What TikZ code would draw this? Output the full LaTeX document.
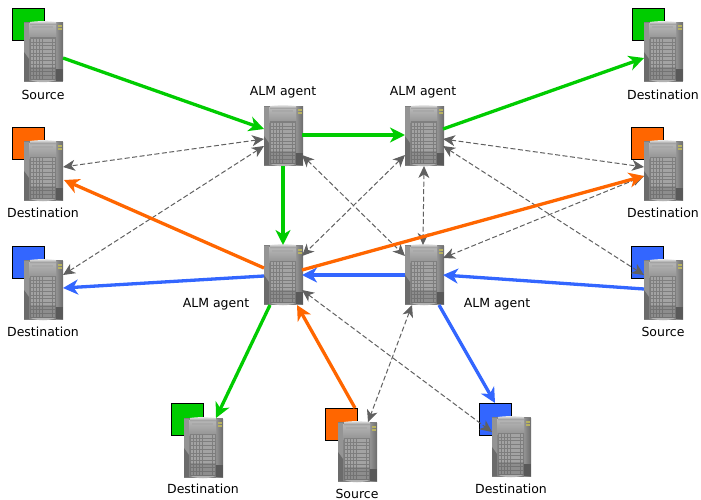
\documentclass[tikz,border=0pt]{standalone}
\usepackage{fontspec}
\setmainfont{DejaVu Sans}
\usetikzlibrary{calc,arrows.meta}
\definecolor{cgreen}{HTML}{00CC00}
\definecolor{corange}{HTML}{FF6600}
\definecolor{cblue}{HTML}{3366FF}
\definecolor{cdash}{HTML}{606060}
\tikzset{
  srv/.style={rectangle,inner sep=0pt,minimum width=39pt,minimum height=60pt,anchor=north west,fill=gray},
  sq/.style={rectangle,draw=black,line width=1pt,inner sep=0pt,minimum size=32pt,anchor=north west},
  lbl/.style={inner sep=0pt,font=\fontsize{12.5}{15}\selectfont,text=black},
  thickline/.style={line width=3.3pt,-{Stealth[length=15pt,width=15pt,inset=4.5pt]}},
  peer/.style={cdash,line width=1pt,dash pattern=on 5pt off 2.5pt,{Stealth[length=12pt,width=11pt,inset=3.5pt]}-{Stealth[length=12pt,width=11pt,inset=3.5pt]}},
  pics/servericon/.style={code={
    \fill[black!48] (0,1) rectangle (39,59);
    \fill[black!42] (0,1) rectangle (5,59);
    \path[left color=black!42,right color=black!58] (32,1) rectangle (39,59);
    \path[top color=black!28,bottom color=black!42] (5,2) rectangle (32,17);
    \fill[black!34] (8,4.5) rectangle (29,6.5);
    \path[top color=black!50,bottom color=black!52] (6,16) rectangle (32,58);
    \fill[black!65] (32,47) -- (39,47) -- (39,59) -- (32,59) -- cycle;
    \fill[black!58] (0,30) -- (5,37) -- (5,59) -- (0,59) -- cycle;
    \path[top color=black!8,bottom color=black!45] (6,0) .. controls (14,-1.2) and (24,-1.2) .. (32,0) -- (32,3) -- (6,3) -- cycle;
    \fill[black!30] (6,58) .. controls (14,61) and (24,61) .. (32,58) -- cycle;
    \foreach \cx in {0,...,7}{\foreach \ry in {0,...,10}{
      \fill[black!36] ({6.8+\cx*3.1},{17+\ry*3.7}) rectangle ++(2.3,2.7);}}
    \fill[black!60,opacity=0.35] (6,45) rectangle (32,58);
    \fill[yellow!60!black!80] (34,3.5) rectangle (38,5.5);
    \fill[yellow!60!black!80] (34,6.5) rectangle (38,8.5);
  }}
}
\newcommand{\agent}[3]{\node[srv] (#1) at (#2,#3) {}; \pic at (#2,#3) {servericon};}
\newcommand{\server}[6]{%
  \node[sq,fill=#6] (#1q) at (#4,#5) {};
  \node[srv] (#1) at (#2,#3) {}; \pic at (#2,#3) {servericon};}
\newcommand{\conn}[7]{\draw[#1] ($(#2.north west)+(#3,#4)$) -- ($(#5.north west)+(#6,#7)$);}
\begin{document}
\begin{tikzpicture}[x=1pt,y=-1pt]
\useasboundingbox (0,0) rectangle (701,500);
% servers
\server{s1}{24}{22}{12}{8}{cgreen}
\server{d2}{24}{141}{12}{127}{corange}
\server{d3}{24}{260}{12}{246}{cblue}
\server{t1}{644}{22}{632}{8}{cgreen}
\server{t2}{644}{141}{631}{127}{corange}
\server{s4}{644}{260}{631}{246}{cblue}
\server{b1}{184}{418}{171}{403}{cgreen}
\server{b2}{338}{422}{325}{408}{corange}
\server{b3}{492}{417}{479}{403}{cblue}
\agent{a1}{264}{106}
\agent{a2}{405}{106}
\agent{a3}{264}{245}
\agent{a4}{405}{245}
% labels
\node[lbl] (l1) at (43,95.2) {Source};
\node[lbl] (l2) at (43,213.2) {Destination};
\node[lbl] (l3) at (43,332.2) {Destination};
\node[lbl] (l4) at (663,95.2) {Destination};
\node[lbl] (l5) at (663,213.2) {Destination};
\node[lbl] (l6) at (663,332.2) {Source};
\node[lbl] (l7) at (283,92.2) {ALM agent};
\node[lbl] (l8) at (423,92.2) {ALM agent};
\node[lbl] (l9) at (216,304.2) {ALM agent};
\node[lbl] (l10) at (497,304.2) {ALM agent};
\node[lbl] (l11) at (203,489.2) {Destination};
\node[lbl] (l12) at (357,493.7) {Source};
\node[lbl] (l13) at (511,489.2) {Destination};
% dashed peer links
\conn{peer}{a1}{0}{33}{d2}{39}{26}
\conn{peer}{a1}{0}{40}{d3}{39}{15}
\conn{peer}{a1}{38}{49}{a4}{0}{11}
\conn{peer}{a2}{0}{49}{a3}{38}{11}
\conn{peer}{a2}{19}{60}{a4}{18}{0}
\conn{peer}{a2}{38}{33}{t2}{0}{26}
\conn{peer}{a2}{38}{40}{s4}{0}{15}
\conn{peer}{a4}{38}{13}{t2}{0}{35}
\conn{peer}{a3}{38}{45}{b3}{0}{15}
\conn{peer}{a4}{7}{60}{b2}{30}{0}
% green
\conn{thickline,cgreen}{s1}{39}{36}{a1}{0}{23}
\conn{thickline,cgreen}{a1}{38}{29}{a2}{0}{29}
\conn{thickline,cgreen}{a1}{19}{60}{a3}{19}{0}
\conn{thickline,cgreen}{a2}{38}{23}{t1}{0}{36}
\conn{thickline,cgreen}{a3}{6}{60}{b1}{32}{0}
% orange
\conn{thickline,corange}{a3}{0}{23}{d2}{40}{39}
\conn{thickline,corange}{a3}{38}{25}{t2}{0}{35}
\conn{thickline,corange}{b2q}{30}{0}{a3}{33}{60}
% blue
\conn{thickline,cblue}{a3}{0}{31}{d3}{39}{28}
\conn{thickline,cblue}{a4}{0}{30}{a3}{38}{30}
\conn{thickline,cblue}{s4}{0}{29}{a4}{38}{30}
\conn{thickline,cblue}{a4}{34}{60}{b3q}{16}{0}
\end{tikzpicture}
\end{document}
